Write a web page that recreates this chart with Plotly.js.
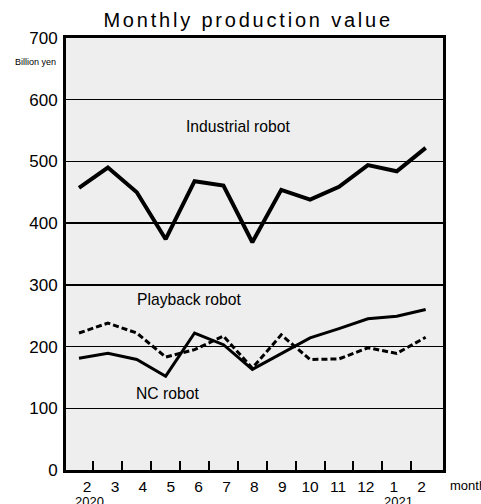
<!DOCTYPE html>
<html>
<head>
<meta charset="utf-8">
<script src="https://cdn.plot.ly/plotly-3.0.1.min.js"></script>
<style>
html,body{margin:0;padding:0;background:#fff;}
#chart{width:481px;height:504px;}
.gtitle{letter-spacing:2.8px;}
</style>
</head>
<body>
<div id="chart"></div>
<script>
var months = ["2","3","4","5","6","7","8","9","10","11","12","1","2"];
var industrial = [457, 490, 450, 374, 468, 461, 369, 454, 438, 459, 494, 484, 522];
var playback = [222, 238, 222, 183, 195, 217, 165, 219, 179, 180, 198, 189, 215];
var nc = [181, 189, 179, 152, 222, 203, 163, 189, 214, 229, 245, 249, 260];
var yTicks = [0, 100, 200, 300, 400, 500, 600, 700];

var idx = months.map(function(_, i){ return i; });
var F = "Liberation Sans, Arial, sans-serif";

var traces = [
  {x: idx, y: industrial, mode: "lines", name: "Industrial robot",
   line: {color: "#000", width: 4}, xaxis: "x", yaxis: "y"},
  {x: idx, y: playback, mode: "lines", name: "Playback robot",
   line: {color: "#000", width: 3, dash: "6px,3px"}, xaxis: "x", yaxis: "y"},
  {x: idx, y: nc, mode: "lines", name: "NC robot",
   line: {color: "#000", width: 3}, xaxis: "x", yaxis: "y"},
  {x: [0], y: [-100], mode: "markers", marker: {opacity: 0}, xaxis: "x2", yaxis: "y", hoverinfo: "skip"}
];

var range = [-0.45, 12.6];
var boundaryTicks = idx.slice(0, idx.length - 1).map(function(i){ return i + 0.5; });
var labelPos = idx.map(function(i){ return i * 0.965 + 0.28; });

var layout = {
  width: 481, height: 504,
  margin: {l: 66, r: 38, t: 38, b: 34, pad: 0},
  paper_bgcolor: "#fff",
  plot_bgcolor: "#eeeeee",
  showlegend: false,
  font: {family: F, color: "#000"},
  title: {text: "Monthly production value", x: 0.516, xanchor: "center", y: 0.96, yanchor: "middle",
          font: {family: F, size: 20, color: "#000"}},
  xaxis: {range: range, tickvals: labelPos, ticktext: months, ticks: "",
          showgrid: false, zeroline: false, showline: true, linewidth: 3, linecolor: "#000",
          mirror: true, tickfont: {family: F, size: 15.5, color: "#000"}, ticklabelstandoff: 0},
  xaxis2: {range: range, overlaying: "x", anchor: "y", side: "bottom",
           tickvals: boundaryTicks, ticktext: boundaryTicks.map(function(){return "";}),
           ticks: "inside", ticklen: 9, tickwidth: 2, tickcolor: "#000",
           showgrid: false, zeroline: false, showline: false, showticklabels: false},
  yaxis: {range: [0, 700], tickvals: yTicks, ticks: "", showgrid: true, gridcolor: "#000",
          gridwidth: 1.5, zeroline: false, showline: true, linewidth: 3, linecolor: "#000",
          mirror: true, tickfont: {family: F, size: 17, color: "#000"}, ticklabelstandoff: 2},
  annotations: [
    {text: "Billion yen", xref: "paper", yref: "paper", x: -0.02, y: 0.945, xanchor: "right", yanchor: "middle",
     showarrow: false, font: {family: F, size: 9, color: "#000"}},
    {text: "Industrial robot", xref: "x", yref: "y", x: 5.5, y: 557, showarrow: false,
     font: {family: F, size: 15.7, color: "#000"}},
    {text: "Playback robot", xref: "x", yref: "y", x: 3.8, y: 277, showarrow: false,
     font: {family: F, size: 15.7, color: "#000"}},
    {text: "NC robot", xref: "x", yref: "y", x: 3.07, y: 124, showarrow: false,
     font: {family: F, size: 15.7, color: "#000"}},
    {text: "2020", xref: "x", yref: "paper", x: 0.38, y: -0.051, yanchor: "top", showarrow: false,
     font: {family: F, size: 13, color: "#000"}},
    {text: "2021", xref: "x", yref: "paper", x: 11.05, y: -0.051, yanchor: "top", showarrow: false,
     font: {family: F, size: 13, color: "#000"}},
    {text: "month", xref: "paper", yref: "paper", x: 1.013, y: -0.014, xanchor: "left", yanchor: "top", showarrow: false,
     font: {family: F, size: 13, color: "#000"}}
  ]
};

Plotly.newPlot("chart", traces, layout, {staticPlot: true, displayModeBar: false});
</script>
</body>
</html>
